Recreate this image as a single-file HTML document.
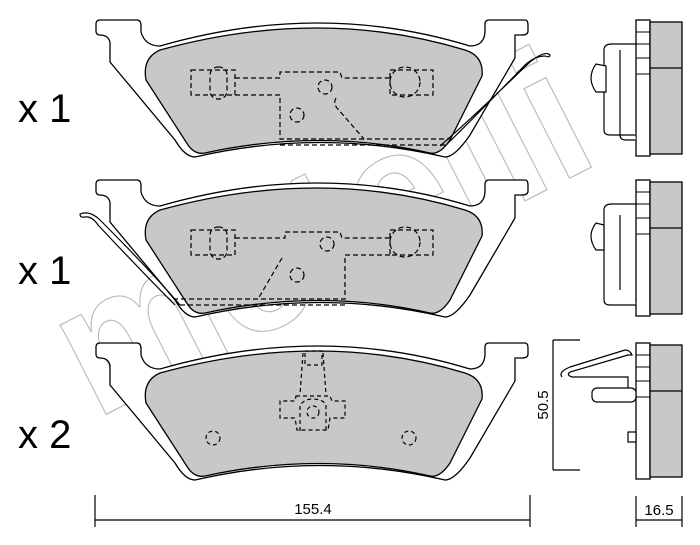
<!DOCTYPE html>
<html><head><style>
html,body{margin:0;padding:0;background:#fff;}
svg{display:block;}
text{font-family:"Liberation Sans",sans-serif;}
</style></head><body>
<svg width="700" height="545" viewBox="0 0 700 545" xmlns="http://www.w3.org/2000/svg">
<defs>
<g id="plate">
<path d="M96,24 Q96,20 100,20 L137,20 Q141,20 141,26 L141,32 Q145,46 160,46 Q320,0 470,46 Q484,46 485,32 L485,24 Q485,20 489,20 L525,20 Q528,20 528,25 L528,31 Q528,35 522,35 L515,35 L515,58 L470,135 Q455,157 445,157 Q320,128 195,157 Q185,157 175,140 L110,62 L110,42 Q108,35 100,35 Q96,35 96,31 Z" fill="#fff" stroke="#000" stroke-width="1.3"/>
<path d="M160,50 Q320,6 465,50 Q484,56 482,76 L450,140 Q440,155 430,153 Q320,128 205,153 Q195,155 188,145 L146,80 Q142,58 160,50 Z" fill="#c8c8c8" stroke="#000" stroke-width="1.3"/>
</g>
<g id="side">
<rect x="636" y="20" width="14" height="136" fill="#fff" stroke="#000" stroke-width="1.3"/>
<line x1="636" y1="32" x2="650" y2="32" stroke="#000"/><line x1="636" y1="44" x2="650" y2="44" stroke="#000"/><line x1="636" y1="58" x2="650" y2="58" stroke="#000"/><line x1="636" y1="74" x2="650" y2="74" stroke="#000"/>
<rect x="650" y="22" width="32" height="132" fill="#c8c8c8" stroke="#000" stroke-width="1.3"/>
<line x1="650" y1="68" x2="682" y2="68" stroke="#000" stroke-width="1.3"/>
</g>
</defs>

<text x="0" y="0" transform="translate(95,420) rotate(-27)" font-size="190" font-weight="bold" fill="none" stroke="#bbb" stroke-width="1.2" textLength="570" lengthAdjust="spacingAndGlyphs">metelli</text>

<use href="#plate"/>
<g fill="none" stroke="#000" stroke-width="1.2" stroke-dasharray="5,3">
<path d="M191,70 L235,70 L235,95 L191,95 Z"/>
<rect x="210" y="67" width="17" height="32" rx="8"/>
<path d="M390,70 L433,70 L433,95 L390,95 Z"/>
<circle cx="405" cy="82" r="15"/>
<path d="M235,78 L280,78 L280,72 L340,72 L342,78 L390,78"/>
<path d="M235,95 L280,95 L280,139 L450,139"/>
<path d="M280,145 L445,145"/>
<path d="M336,98 Q333,103 337,108 L364,139"/>
<circle cx="325" cy="87" r="7"/><circle cx="297" cy="115" r="7"/>
</g>
<path d="M440,146 Q470,120 530,62 Q545,50 550,55 Q550,58 545,56 Q535,56 525,65 Q470,122 445,146" fill="none" stroke="#000" stroke-width="1.2"/>
<use href="#side"/>
<path d="M620,50 L620,135 Q620,140 626,140 L636,140 M604,50 Q604,44 612,44 L636,44 M604,50 L604,130 Q604,135 610,135 L636,135" fill="#fff" stroke="#000" stroke-width="1.2"/>
<path d="M606,66 L596,64 Q586,78 596,92 L606,92 Z" fill="#fff" stroke="#000" stroke-width="1.2"/>

<g transform="translate(0,160)">
<use href="#plate"/>
<g fill="none" stroke="#000" stroke-width="1.2" stroke-dasharray="5,3">
<path d="M191,70 L235,70 L235,95 L191,95 Z"/>
<rect x="210" y="67" width="17" height="32" rx="8"/>
<path d="M390,70 L433,70 L433,95 L390,95 Z"/>
<circle cx="405" cy="82" r="15"/>
<path d="M235,78 L285,78 L285,72 L340,72 L342,78 L390,78"/>
<path d="M390,95 L345,95 L345,139 L175,139"/>
<path d="M345,145 L180,145"/>
<path d="M282,98 L258,139"/>
<circle cx="327" cy="84" r="7"/><circle cx="297" cy="115" r="7"/>
</g>
<use href="#side"/>
</g>
<path d="M180,305 Q150,270 100,220 Q90,210 80,214 Q80,218 85,217 Q92,216 98,225 Q145,275 175,305" fill="none" stroke="#000" stroke-width="1.2"/>
<path d="M604,210 L604,300 Q604,305 610,305 L636,305 M604,210 Q604,204 612,204 L636,204 M620,215 L620,290" fill="#fff" stroke="#000" stroke-width="1.2"/>
<path d="M604,225 L596,223 Q586,236 596,250 L604,250 Z" fill="#fff" stroke="#000" stroke-width="1.2"/>

<g transform="translate(0,323)">
<use href="#plate"/>
<g fill="none" stroke="#000" stroke-width="1.2" stroke-dasharray="4,3">
<path d="M305,28 L322,28 L322,42 L305,42 Z"/>
<path d="M303,30 L300,72 M323,30 L326,72"/>
<path d="M296,73 L330,73 L332,78 L345,78 L345,95 L330,95 L328,107 L297,107 L295,95 L280,95 L280,78 L295,78 Z"/>
<circle cx="313" cy="89" r="6"/>
<path d="M300,108 L300,82 Q305,76 312,76 Q323,76 326,82 L326,108"/>
<circle cx="213" cy="115" r="7"/><circle cx="409" cy="115" r="7"/>
</g>
<use href="#side"/>
</g>
<path d="M562,377 Q558,372 570,367 L625,350 Q630,350 632,355 L628,355 L570,372 Q566,375 572,377 L628,377 L628,395" fill="none" stroke="#000" stroke-width="1.2"/>
<rect x="592" y="388" width="44" height="14" rx="5" fill="#fff" stroke="#000" stroke-width="1.2"/>
<rect x="628" y="432" width="8" height="10" fill="#fff" stroke="#000" stroke-width="1.2"/>

<g stroke="#000" stroke-width="1.2">
<line x1="95" y1="520" x2="530" y2="520"/>
<line x1="95" y1="495" x2="95" y2="527"/><line x1="530" y1="495" x2="530" y2="527"/>
<line x1="553" y1="340" x2="553" y2="470"/>
<line x1="553" y1="340" x2="580" y2="340"/><line x1="553" y1="470" x2="580" y2="470"/>
<line x1="636" y1="520" x2="682" y2="520"/>
<line x1="636" y1="496" x2="636" y2="527"/><line x1="682" y1="496" x2="682" y2="527"/>
</g>
<text x="313" y="514" font-size="15" text-anchor="middle">155.4</text>
<text x="659" y="515" font-size="15" text-anchor="middle">16.5</text>
<text transform="translate(548,405) rotate(-90)" font-size="15" text-anchor="middle">50.5</text>

<text x="18" y="122" font-size="40">x 1</text>
<text x="18" y="284" font-size="40">x 1</text>
<text x="18" y="448" font-size="40">x 2</text>
</svg>
</body></html>
